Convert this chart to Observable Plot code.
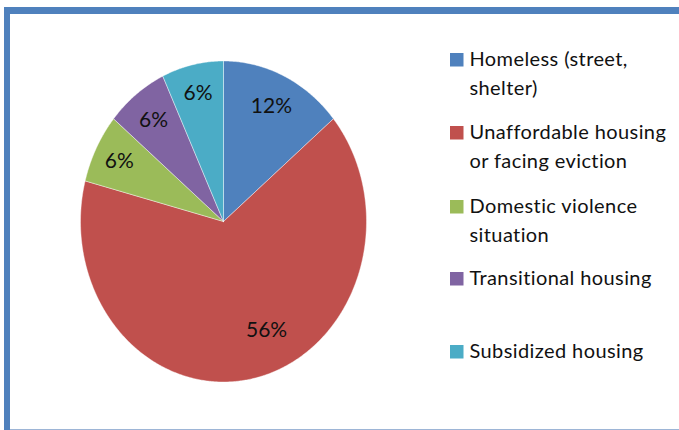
<!DOCTYPE html>
<html>
<head>
<meta charset="utf-8">
<script src="https://cdn.jsdelivr.net/npm/d3@7"></script>
<script src="https://cdn.jsdelivr.net/npm/@observablehq/plot@0.6"></script>
<style>
  html, body { margin: 0; padding: 0; background: #fff; }
  #wrap { position: relative; width: 679px; height: 430px; overflow: hidden; }
  #frameTop { position: absolute; left: 4px; top: 7px; width: 680px; height: 7px; background: #4f81bd; }
  #frameLeft { position: absolute; left: 4px; top: 7px; width: 6px; height: 430px; background: #4f81bd; }
  #frameBottom { position: absolute; left: 10px; top: 429px; width: 680px; height: 1px; background: #9db5d6; }
  #chart { position: absolute; left: 0; top: 0; }
  .legendText text { letter-spacing: 0.4px; }
</style>
</head>
<body>
<div id="wrap">
  <div id="chart"></div>
  <div id="frameTop"></div>
  <div id="frameLeft"></div>
  <div id="frameBottom"></div>
</div>
<script>
// ---- data ----
const categories = ["Homeless (street, shelter)", "Unaffordable housing or facing eviction", "Domestic violence situation", "Transitional housing", "Subsidized housing"];
const values = [12, 56, 6, 6, 6];
const valueLabels = ["12%", "56%", "6%", "6%", "6%"];
const legendText = ["Homeless (street,\nshelter)", "Unaffordable housing\nor facing eviction", "Domestic violence\nsituation", "Transitional housing", "Subsidized housing"];
const colors = ["#4f81bd", "#c0504d", "#9bbb59", "#8064a2", "#4bacc6"];

// ---- layout (pixels) ----
const W = 679, H = 430;
const cx = 223, cy = 221, rx = 143, ry = 160.5;
const labelR = [0.79, 0.74, 0.82, 0.80, 0.82];
const labelShift = [0, -0.2, 0, 0, 0]; // radians, emulating best-fit placement
const legendTop = [53, 126, 200, 272, 345];
const swatchX = 450, swatchSize = 13.5, textX = 469;

const total = d3.sum(values);
let acc = 0;
const slices = categories.map((c, i) => {
  const a0 = acc / total * 2 * Math.PI;
  acc += values[i];
  const a1 = acc / total * 2 * Math.PI;
  return {cat: c, a0, a1, label: valueLabels[i], i};
});

const wedgePts = [];
for (const s of slices) {
  wedgePts.push({cat: s.cat, x: cx, y: cy});
  const n = Math.max(2, Math.ceil((s.a1 - s.a0) / (Math.PI / 360)));
  for (let k = 0; k <= n; k++) {
    const a = s.a0 + (s.a1 - s.a0) * k / n;
    wedgePts.push({cat: s.cat, x: cx + rx * Math.sin(a), y: cy - ry * Math.cos(a)});
  }
  wedgePts.push({cat: s.cat, x: cx, y: cy});
}

const labelPts = slices.map(s => {
  const m = (s.a0 + s.a1) / 2 + labelShift[s.i];
  const r = labelR[s.i];
  return {label: s.label, x: cx + r * rx * Math.sin(m), y: cy - r * ry * Math.cos(m)};
});

const legendRows = categories.map((c, i) => ({cat: c, text: legendText[i], top: legendTop[i]}));

const chart = Plot.plot({
  width: W,
  height: H,
  margin: 0,
  style: {fontFamily: "Lato, sans-serif", background: "transparent"},
  x: {domain: [0, W], range: [0, W], axis: null},
  y: {domain: [0, H], range: [0, H], axis: null},
  color: {domain: categories, range: colors},
  marks: [
    Plot.line(wedgePts, {x: "x", y: "y", z: "cat", fill: "cat", stroke: "white", strokeWidth: 0.6, strokeOpacity: 0.7, curve: "linear-closed"}),
    Plot.text(labelPts, {x: "x", y: "y", text: "label", fontSize: 21, fill: "#111"}),
    Plot.rect(legendRows, {x1: () => swatchX, x2: () => swatchX + swatchSize, y1: "top", y2: d => d.top + swatchSize, fill: "cat"}),
    Plot.text(legendRows, {x: () => textX, y: "top", dy: -8, text: "text", textAnchor: "start", lineAnchor: "top", lineHeight: 1.45, fontSize: 20, fill: "#111", className: "legendText"})
  ]
});
document.getElementById("chart").appendChild(chart);
</script>
</body>
</html>
